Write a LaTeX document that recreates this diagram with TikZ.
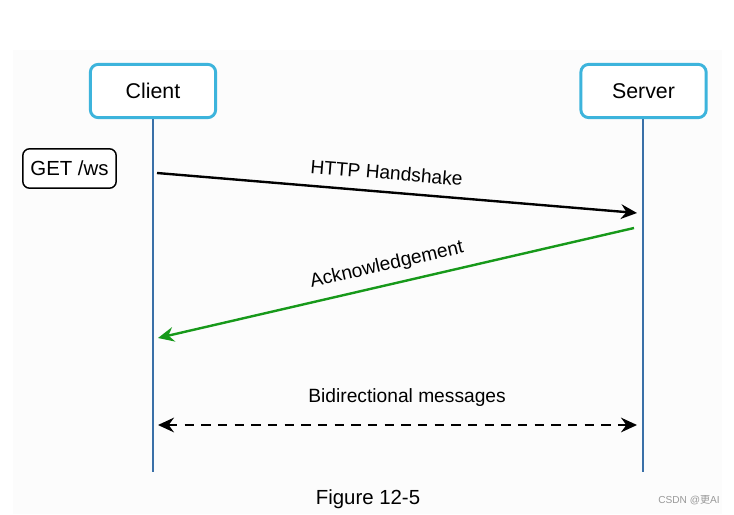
\documentclass[tikz,border=0pt]{standalone}
\usepackage{fontspec}
\setmainfont{Liberation Sans}
\newfontfamily\cjk{Noto Sans CJK SC}
\usetikzlibrary{arrows.meta}
\definecolor{boxblue}{HTML}{3DB4DC}
\definecolor{lifeblue}{HTML}{3A70A8}
\definecolor{ackgreen}{HTML}{17991A}
\definecolor{bggray}{HTML}{FCFCFC}
\tikzset{
  actor/.style={draw=boxblue, line width=2.2pt, rounded corners=6pt, fill=white,
    minimum width=94pt, minimum height=40pt, font=\fontsize{16}{19}\selectfont},
  request/.style={draw, line width=1.1pt, rounded corners=5pt, fill=white,
    minimum width=70pt, minimum height=29.5pt, font=\fontsize{15.3}{18}\selectfont},
  lifeline/.style={draw=lifeblue, line width=2.1pt},
  msg/.style={line width=1.8pt, -{Stealth[length=12pt, width=11pt, inset=4pt]}},
  lbl/.style={font=\fontsize{14.4}{17}\selectfont, sloped}
}
\begin{document}
\begin{tikzpicture}[x=0.75pt, y=-0.75pt]
\useasboundingbox (0,0) rectangle (734,514);
\fill[bggray] (13,50) rectangle (722,514);

% lifelines
\coordinate (clientend) at (153,472);
\coordinate (serverend) at (643,472);
\draw[lifeline] (153,119) -- (clientend);
\draw[lifeline] (643,119) -- (serverend);

\node[actor] (client) at (153,91) {Client};
\node[actor] (server) at (643.5,91) {Server};
\node[request] (get) at (69.5,168.5) {GET /ws};

% messages
\coordinate (hs1) at (157,173);
\coordinate (hs2) at (637,213);
\coordinate (ack1) at (634,228);
\coordinate (ack2) at (158,338);
\coordinate (bi1) at (158,425);
\coordinate (bi2) at (637,425);

\draw[msg] (hs1) -- node[lbl, pos=0.475, above=5pt] {HTTP Handshake} (hs2);
\draw[msg, draw=ackgreen, fill=ackgreen] (ack1) -- node[lbl, pos=0.51, above=3.5pt] {Acknowledgement} (ack2);
\draw[msg, line width=1.6pt, dash pattern=on 7pt off 5.5pt,
  {Stealth[length=12pt, width=11pt, inset=4pt]}-{Stealth[length=12pt, width=11pt, inset=4pt]}]
  (bi1) -- node[lbl, pos=0.52, above=10pt] {Bidirectional messages} (bi2);

\node[font=\fontsize{15.3}{18}\selectfont] (caption) at (368,499) {Figure 12-5};
\node[font=\fontsize{7.6}{9}\selectfont, text=black!40] (mark) at (689,500) {CSDN @\cjk 更\rmfamily AI};
\end{tikzpicture}
\end{document}
